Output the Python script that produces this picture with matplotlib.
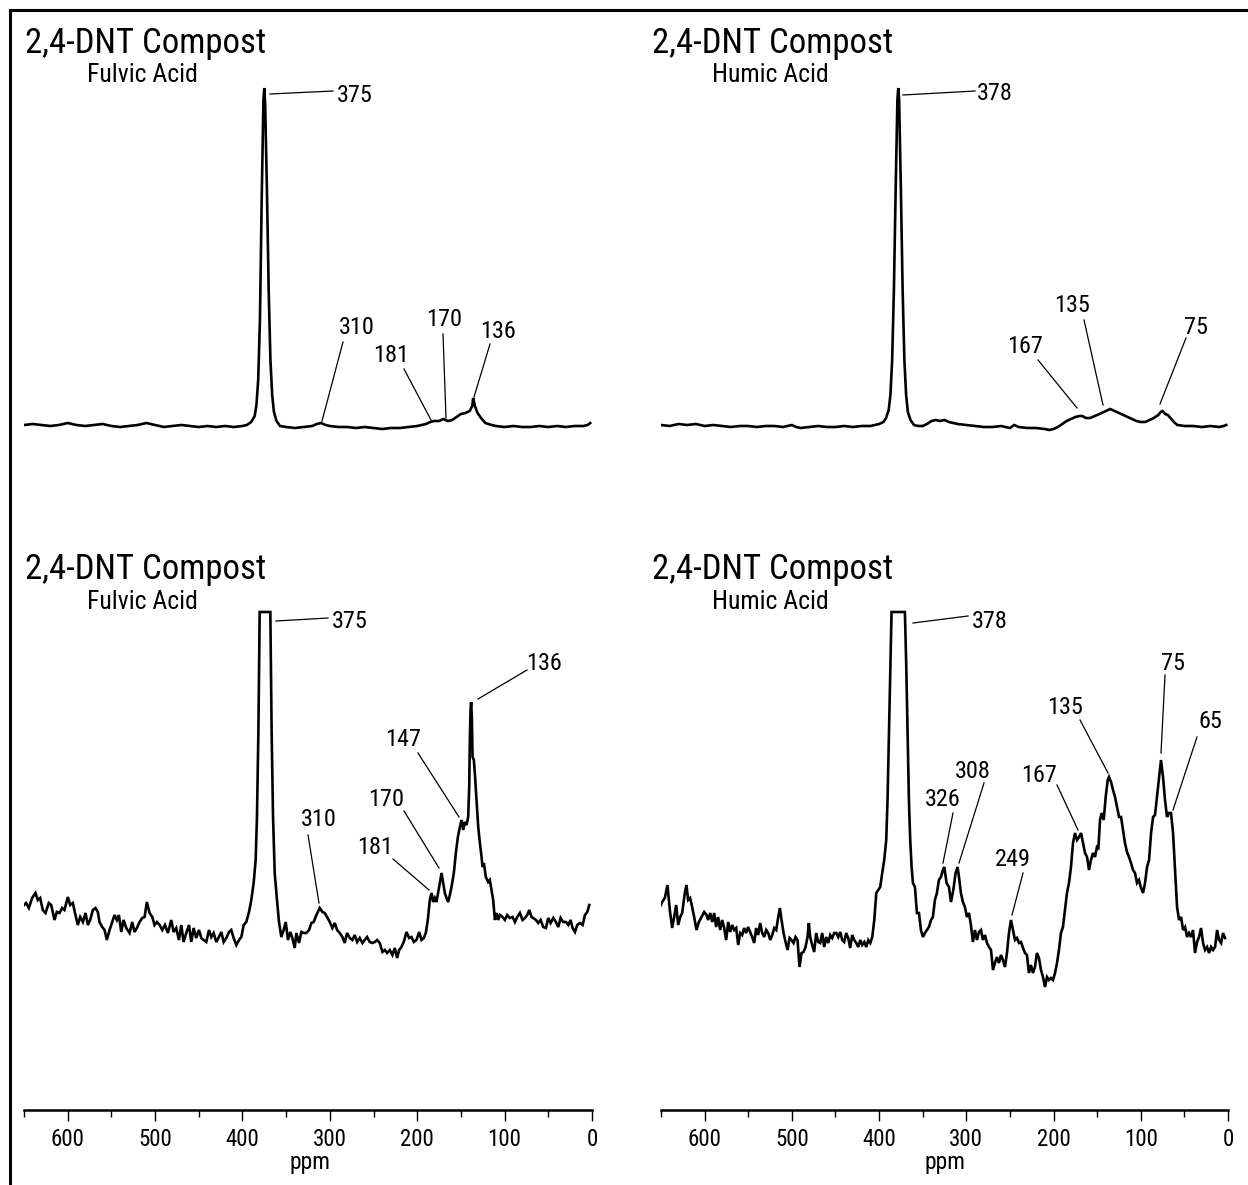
import numpy as np
import matplotlib
matplotlib.use("Agg")
import matplotlib.pyplot as plt
from matplotlib import font_manager
from matplotlib.lines import Line2D

# ---------------- data (ppm, intensity in arbitrary units) ----------------
# Top-left: 2,4-DNT Compost, Fulvic Acid (full scale)
tl_ppm = [650, 640, 630, 620, 610, 600, 590, 580, 570, 560, 550, 540, 530, 520, 510, 500,
          490, 480, 470, 460, 450, 440, 430, 420, 410, 400, 395, 390, 386, 384, 382, 380,
          378, 376, 375, 374, 372, 370, 368, 366, 364, 361, 357, 350, 340, 330, 320, 315,
          310, 305, 300, 290, 280, 270, 260, 250, 240, 230, 220, 210, 200, 190, 185, 181,
          175, 170, 165, 160, 155, 150, 145, 140, 137, 136, 134, 131, 127, 122, 115, 110,
          100, 90, 80, 70, 60, 50, 40, 30, 20, 10, 5, 2]
tl_int = [15, 16, 15, 14, 15, 17, 15, 14, 15, 16, 14, 13, 14, 15, 17, 15,
          13, 14, 15, 14, 13, 14, 13, 14, 13, 14, 15, 18, 24, 35, 60, 120,
          240, 340, 352, 335, 250, 150, 80, 45, 28, 19, 14, 13, 12, 13, 14, 16,
          17, 15, 14, 13, 13, 12, 13, 12, 11, 12, 12, 13, 14, 16, 18, 19,
          19, 21, 19, 20, 23, 26, 27, 29, 34, 42, 34, 27, 22, 17, 15, 14,
          13, 14, 13, 13, 14, 13, 14, 13, 14, 14, 15, 17]

# Top-right: 2,4-DNT Compost, Humic Acid (full scale)
tr_ppm = [650, 640, 630, 620, 610, 600, 590, 580, 570, 560, 550, 540, 530, 520, 510, 500,
          495, 490, 480, 470, 460, 450, 440, 430, 420, 410, 400, 395, 392, 389, 387, 385,
          383, 381, 379, 378, 377, 375, 373, 371, 369, 367, 364, 360, 355, 350, 345, 340,
          335, 330, 325, 320, 315, 310, 300, 290, 280, 270, 260, 250, 245, 240, 230, 220,
          210, 205, 200, 195, 190, 185, 180, 175, 170, 167, 163, 158, 150, 145, 140, 135,
          130, 125, 120, 115, 110, 105, 100, 95, 90, 85, 80, 77, 75, 72, 69, 66,
          62, 58, 50, 40, 30, 20, 10, 5, 2]
tr_int = [15, 14, 16, 15, 16, 14, 15, 14, 13, 14, 14, 13, 14, 14, 13, 15,
          13, 12, 13, 14, 13, 13, 14, 13, 14, 14, 16, 18, 22, 30, 45, 80,
          150, 250, 340, 352, 340, 250, 150, 80, 45, 28, 20, 15, 14, 14, 16, 19,
          20, 19, 20, 18, 17, 16, 15, 14, 13, 13, 14, 12, 15, 13, 12, 12,
          11, 10, 11, 13, 16, 19, 21, 23, 24, 24, 22, 22, 25, 27, 29, 31,
          29, 27, 25, 23, 21, 19, 18, 18, 20, 22, 25, 28, 29, 26, 25, 22,
          18, 15, 14, 14, 13, 14, 13, 14, 15]

# Bottom-left: Fulvic Acid (expanded, 375 peak truncated)
bl_ppm = [650.0, 647.6, 644.5, 640.7, 636.9, 634.2, 631.5, 628.5, 625.4, 621.6,
          618.9, 615.1, 612.4, 609.4, 606.3, 603.7, 599.8, 597.2, 594.1, 591.1,
          588.4, 585.7, 582.6, 579.6, 576.9, 574.3, 571.2, 568.2, 565.5, 563.6,
          560.5, 557.8, 555.2, 552.1, 549.1, 546.4, 543.7, 541.4, 538.7, 536.1,
          533.0, 529.2, 526.2, 523.5, 520.8, 517.8, 514.7, 512.0, 509.4, 506.3,
          503.2, 500.6, 497.9, 494.8, 491.8, 488.7, 485.3, 481.5, 478.8, 475.8,
          472.7, 470.0, 467.4, 464.3, 461.2, 458.6, 455.9, 452.9, 449.8, 447.1,
          444.5, 441.4, 438.3, 435.7, 433.0, 429.9, 426.9, 424.2, 421.5, 418.5,
          415.4, 412.8, 410.1, 407.0, 404.0, 401.3, 398.6, 395.6, 392.5, 389.9,
          387.2, 384.9, 383.4, 381.8, 380.3, 368.1, 366.6, 365.0, 363.1, 360.5,
          358.2, 355.5, 352.8, 350.5, 347.9, 345.2, 342.9, 340.2, 338.3, 335.3,
          332.6, 329.9, 326.9, 323.8, 321.1, 318.5, 315.4,
          311.6, 308.5, 305.9, 303.2, 300.1, 297.1, 294.4, 291.7, 288.7, 285.6,
          283.0, 280.3, 277.2, 274.2, 271.5, 268.8, 265.8, 262.7, 260.0, 257.4,
          254.3, 251.3, 248.6, 245.9, 242.9, 239.8, 237.1, 234.5, 231.4, 228.4,
          225.7, 223.0, 220.7, 218.1, 215.4, 212.3, 209.3, 206.6, 203.9, 200.9,
          197.8, 195.1, 192.5, 190.2, 187.9, 185.6, 183.7, 181.8, 179.9, 178.0,
          176.1, 174.1, 172.2, 170.3, 168.4, 166.5, 164.6, 162.7, 160.8, 158.1,
          155.8, 153.5, 151.2, 149.3, 147.4, 145.5, 143.6, 141.7, 140.5, 139.8,
          139.0, 138.3, 137.5, 136.7, 135.2, 134.1, 132.1, 130.2, 128.3, 126.4,
          125.3, 123.7, 121.5, 118.8, 116.9, 115.0, 113.1, 111.1, 109.2, 107.3,
          105.4, 102.4, 99.7, 97.0, 94.0, 90.9, 88.2, 85.6, 82.5, 79.5,
          76.8, 74.1, 71.8, 69.2, 67.3, 64.2, 61.5, 58.8, 55.8, 52.7,
          50.1, 47.4, 44.3, 41.3, 38.6, 35.9, 32.9, 29.8, 27.1, 24.5,
          22.2, 19.5, 16.9, 13.8, 10.7, 8.1, 5.4, 3.1]
bl_int = [205, 207, 202, 212, 217, 210, 212, 200, 197, 207,
          205, 190, 198, 197, 202, 200, 213, 205, 207, 195,
          185, 193, 188, 197, 185, 190, 200, 202, 198, 188,
          183, 180, 170, 180, 188, 195, 190, 195, 178, 190,
          182, 177, 188, 178, 182, 188, 192, 193, 208, 197,
          193, 185, 188, 185, 180, 185, 177, 190, 178, 182,
          170, 185, 168, 177, 185, 168, 182, 172, 180, 172,
          170, 168, 180, 173, 177, 168, 173, 178, 168, 172,
          178, 180, 172, 165, 170, 173, 185, 188, 198, 210,
          227, 250, 293, 377, 498, 498, 377, 293, 237, 210,
          188, 173, 180, 188, 170, 178, 172, 162, 177, 167,
          178, 177, 177, 180, 187, 188, 195,
          202, 198, 197, 193, 188, 182, 187, 180, 177, 173,
          167, 177, 172, 170, 175, 168, 172, 167, 170, 173,
          168, 167, 168, 170, 167, 158, 160, 157, 160, 155,
          162, 152, 160, 163, 168, 178, 172, 173, 168, 170,
          178, 170, 172, 177, 190, 210, 217, 208, 212, 208,
          217, 227, 237, 227, 217, 212, 208, 215, 223, 237,
          257, 273, 283, 290, 280, 288, 285, 293, 323, 370,
          400, 408, 393, 353, 350, 337, 310, 283, 267, 253,
          243, 247, 233, 228, 230, 220, 210, 190, 197, 190,
          195, 193, 190, 195, 192, 193, 188, 193, 197, 190,
          192, 195, 200, 193, 192, 190, 187, 190, 183, 182,
          192, 187, 192, 188, 183, 192, 188, 188, 185, 190,
          182, 178, 185, 187, 185, 195, 198, 205]

# Bottom-right: Humic Acid (expanded, 378 peak truncated)
br_ppm = [650.0, 648.7, 645.6, 642.6, 639.9, 637.2, 634.9, 632.6, 630.3, 628.0,
          625.7, 622.7, 620.8, 618.9, 616.6, 614.3, 612.0, 609.3, 606.6, 603.6,
          600.5, 597.8, 595.9, 593.6, 591.3, 589.0, 586.8, 584.5, 582.2, 579.9,
          577.6, 575.3, 573.0, 570.7, 568.4, 566.1, 563.8, 561.5, 559.2, 556.9,
          554.7, 552.4, 550.1, 547.8, 545.5, 543.2, 540.9, 538.6, 536.3, 534.0,
          531.7, 529.4, 527.1, 524.8, 522.5, 520.2, 517.9, 515.6, 513.7, 511.8,
          509.5, 507.2, 504.9, 502.6, 500.4, 498.1, 495.8, 493.5, 491.2, 488.9,
          486.6, 484.3, 482.0, 480.5, 479.0, 476.7, 474.4, 472.1, 469.8, 467.5,
          465.2, 462.9, 460.6, 458.3, 456.0, 453.7, 451.4, 449.1, 446.8, 444.5,
          442.3, 440.0, 437.7, 435.4, 433.1, 430.8, 428.5, 426.2, 423.9, 421.6,
          419.3, 417.0, 414.7, 412.4, 410.1, 407.8, 405.5, 403.2, 400.9, 398.7,
          396.4, 394.1, 391.8, 390.3, 388.7, 387.2, 385.7, 370.4, 368.8, 367.3,
          365.8, 364.3, 362.7, 361.2, 358.9, 356.6, 354.3, 352.0, 349.7, 347.4,
          345.1, 342.8, 340.5, 338.3, 336.0, 333.7, 331.4, 329.1, 326.8, 325.3,
          322.6, 319.9, 317.6, 314.9, 312.3, 310.0, 308.4, 306.2, 303.9, 301.6,
          299.3, 297.0, 294.7, 292.4, 290.1, 287.8, 285.5, 283.2, 280.9, 278.6,
          276.3, 274.0, 271.7, 269.4, 267.2, 264.9, 262.6, 260.3, 258.0, 255.7,
          253.4, 251.1, 248.8, 246.5, 244.2, 241.9, 239.6, 237.3, 235.0, 232.7,
          230.5, 228.2, 225.9, 223.6, 221.3, 219.0, 216.7, 214.4, 212.1, 209.8,
          207.5, 205.2, 202.9, 200.6, 198.3, 196.0, 193.8, 191.5, 189.2, 186.9,
          184.6, 182.3, 180.0, 177.7, 175.4, 173.1, 170.8, 168.5, 166.2, 163.9,
          161.6, 159.3, 157.1, 154.8, 152.5, 150.2, 148.6, 146.7, 144.8, 142.5,
          140.2, 137.9, 136.4, 134.1, 131.8, 129.5, 127.2, 124.9, 122.6, 120.3,
          118.1, 115.8, 113.5, 111.2, 108.9, 106.6, 104.3, 102.0, 99.7, 97.4,
          95.1, 92.8, 90.5, 88.2, 85.9, 83.7, 81.4, 79.1, 76.8, 74.5,
          72.2, 69.9, 67.6, 65.3, 63.0, 60.7, 58.4, 56.1, 53.8, 51.5,
          49.2, 46.9, 44.7, 42.4, 40.1, 37.8, 35.5, 33.2, 30.9, 28.6,
          26.3, 24.0, 21.7, 19.4, 17.1, 14.8, 12.5, 10.2, 7.9, 5.7,
          3.4]
br_int = [205, 208, 212, 225, 200, 182, 193, 205, 185, 193,
          197, 217, 225, 210, 212, 203, 193, 180, 188, 193,
          198, 195, 190, 197, 188, 197, 183, 193, 180, 190,
          182, 170, 188, 178, 185, 180, 182, 165, 177, 175,
          182, 177, 183, 178, 173, 167, 182, 175, 187, 177,
          173, 180, 177, 170, 175, 182, 180, 193, 202, 190,
          177, 168, 160, 172, 170, 167, 173, 170, 143, 157,
          158, 163, 173, 187, 173, 165, 158, 177, 168, 167,
          177, 163, 173, 167, 175, 172, 177, 177, 173, 178,
          170, 168, 177, 172, 162, 175, 170, 167, 163, 170,
          165, 168, 163, 170, 167, 173, 190, 217, 220, 223,
          237, 250, 270, 310, 377, 443, 498, 498, 443, 377,
          310, 270, 243, 227, 223, 197, 197, 180, 173, 177,
          180, 183, 190, 193, 210, 217, 230, 233, 240, 243,
          227, 223, 208, 220, 237, 243, 233, 217, 208, 203,
          193, 197, 185, 168, 180, 170, 178, 180, 170, 175,
          167, 163, 160, 140, 147, 153, 147, 155, 150, 143,
          157, 177, 190, 180, 170, 172, 167, 168, 162, 157,
          155, 137, 145, 137, 143, 157, 152, 140, 133, 123,
          133, 130, 132, 130, 137, 147, 160, 177, 183, 200,
          217, 227, 243, 267, 277, 270, 273, 277, 267, 257,
          253, 240, 250, 257, 253, 263, 262, 290, 297, 290,
          313, 330, 333, 328, 320, 313, 303, 293, 293, 280,
          267, 258, 253, 247, 240, 237, 227, 230, 222, 217,
          227, 243, 250, 277, 293, 295, 313, 330, 350, 333,
          310, 293, 297, 297, 277, 240, 203, 190, 193, 180,
          183, 173, 177, 173, 180, 157, 168, 173, 182, 167,
          160, 163, 157, 163, 160, 163, 180, 170, 167, 177,
          172]

titles = ["2,4-DNT Compost"] * 4
subtitles = ["Fulvic Acid", "Humic Acid", "Fulvic Acid", "Humic Acid"]
major_ticks = [600, 500, 400, 300, 200, 100, 0]
minor_ticks = [650, 550, 450, 350, 250, 150, 50]
tick_labels = ["600", "500", "400", "300", "200", "100", "0"]
x_label = "ppm"

# ---------------- fonts ----------------
names = {f.name for f in font_manager.fontManager.ttflist}
cond = None
for cand in ["Liberation Sans Narrow", "Roboto Condensed", "Open Sans Condensed", "Arial Narrow"]:
    if cand in names:
        cond = cand
        break
if cond:
    plt.rcParams["font.family"] = [cond, "DejaVu Sans"]
else:
    plt.rcParams["font.family"] = ["DejaVu Sans"]
    plt.rcParams["font.stretch"] = "condensed"
plt.rcParams["font.weight"] = "normal"

W, H = 1248, 1185
fig = plt.figure(figsize=(W / 100, H / 100), dpi=100)
fig.patch.set_facecolor("white")


def add_ax(x0, y_top, x1, y_bot):
    return fig.add_axes([x0 / W, 1 - y_bot / H, (x1 - x0) / W, (y_bot - y_top) / H])


def fpx(x, y):
    return (x / W, 1 - y / H)


# frame lines (left and top)
fig.add_artist(Line2D([10 / W, 10 / W], [0, 1 - 10 / H], color="black", lw=2.2,
                      transform=fig.transFigure))
fig.add_artist(Line2D([10 / W, 1], [1 - 10 / H, 1 - 10 / H], color="black", lw=2.2,
                      transform=fig.transFigure))

cols = [(24, 592), (661, 1228)]
panels = [
    (tl_ppm, tl_int, cols[0], 80, 440, 360, False),
    (tr_ppm, tr_int, cols[1], 80, 440, 360, False),
    (bl_ppm, bl_int, cols[0], 600, 1110, 510, True),
    (br_ppm, br_int, cols[1], 600, 1110, 510, True),
]
axes = []
for ppm, inten, (x0, x1), yt, yb, ymax, show_axis in panels:
    ax = add_ax(x0, yt, x1, yb)
    ax.plot(ppm, inten, color="black", lw=1.9, solid_joinstyle="miter")
    ax.set_xlim(650, 0)
    ax.set_ylim(0, ymax)
    ax.set_facecolor("none")
    for s in ["left", "right", "top"]:
        ax.spines[s].set_visible(False)
    ax.set_yticks([])
    if show_axis:
        ax.spines["bottom"].set_linewidth(1.8)
        ax.set_xticks(major_ticks)
        ax.set_xticklabels(tick_labels)
        ax.set_xticks(minor_ticks, minor=True)
        ax.tick_params(axis="x", which="major", direction="out", length=8, width=1.0,
                       labelsize=16.5, pad=5)
        ax.tick_params(axis="x", which="minor", direction="out", length=5, width=1.0)
    else:
        ax.spines["bottom"].set_visible(False)
        ax.set_xticks([])
    axes.append(ax)

# titles
title_pos = [(25, 43, 87, 75), (652, 43, 712, 75), (25, 570, 87, 602), (652, 570, 712, 602)]
for (tx, ty, sx, sy), t, s in zip(title_pos, titles, subtitles):
    fig.text(*fpx(tx, ty), t, fontsize=25, ha="left", va="center")
    fig.text(*fpx(sx, sy), s, fontsize=18.5, ha="left", va="center")

# x-axis labels
fig.text(*fpx(310, 1163), x_label, fontsize=17, ha="center", va="center")
fig.text(*fpx(945, 1163), x_label, fontsize=17, ha="center", va="center")

# peak annotations: label, leader start (at curve), leader end, text pos, ha
annots = [
    ("375", (270, 94), (333, 91), (337, 95), "left"),
    ("310", (322, 421), (343, 342), (357, 328), "center"),
    ("181", (431, 420), (404, 369), (391, 356), "center"),
    ("170", (446, 418), (443, 334), (444, 320), "center"),
    ("136", (474, 397), (490, 344), (498, 331), "center"),
    ("378", (903, 95), (975, 91), (977, 94), "left"),
    ("167", (1077, 408), (1038, 360), (1025, 346), "center"),
    ("135", (1103, 405), (1084, 320), (1072, 305), "center"),
    ("75", (1160, 404), (1186, 338), (1196, 327), "center"),
    ("375", (276, 621), (328, 618), (332, 622), "left"),
    ("310", (319, 903), (308, 835), (319, 820), "center"),
    ("181", (429, 890), (393, 859), (375, 847), "center"),
    ("170", (439, 868), (404, 811), (386, 800), "center"),
    ("147", (459, 817), (418, 753), (403, 740), "center"),
    ("136", (478, 699), (527, 670), (544, 663), "center"),
    ("378", (913, 623), (968, 616), (972, 622), "left"),
    ("326", (943, 863), (953, 813), (943, 800), "center"),
    ("308", (959, 863), (984, 783), (973, 772), "center"),
    ("249", (1012, 915), (1023, 873), (1013, 860), "center"),
    ("167", (1078, 830), (1057, 785), (1039, 775), "center"),
    ("135", (1108, 773), (1080, 720), (1065, 708), "center"),
    ("75", (1161, 753), (1165, 675), (1173, 663), "center"),
    ("65", (1173, 810), (1197, 737), (1210, 722), "center"),
]
for lab, p0, p1, tp, ha in annots:
    fig.add_artist(Line2D([p0[0] / W, p1[0] / W], [1 - p0[1] / H, 1 - p1[1] / H],
                          color="black", lw=0.9, transform=fig.transFigure))
    fig.text(*fpx(*tp), lab, fontsize=17.5, ha=ha, va="center")

fig.savefig("out.png", dpi=100, facecolor="white")
